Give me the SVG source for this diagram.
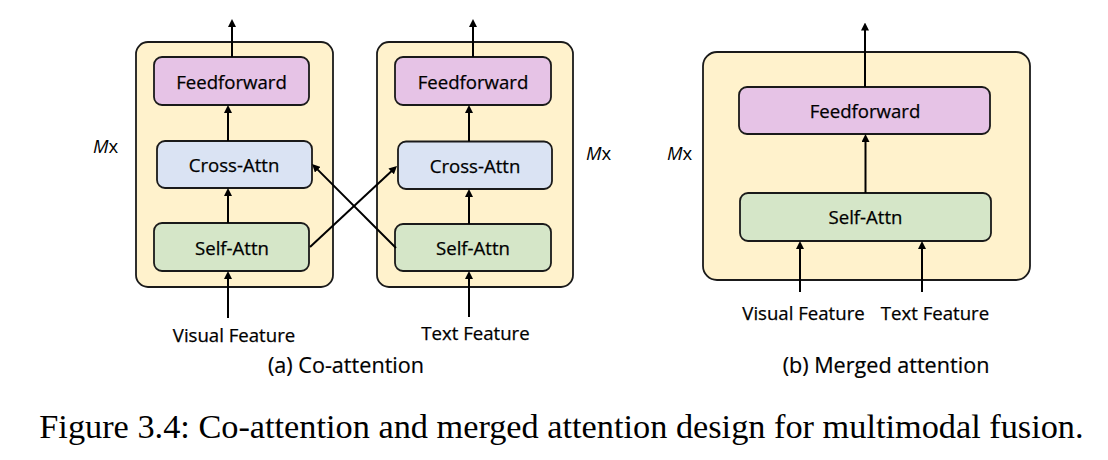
<svg xmlns="http://www.w3.org/2000/svg" width="1108" height="460" viewBox="0 0 1108 460">
<style>
.bg{fill:#ffffff}
.outer{fill:#fff2cc;stroke:#1a1a1a;stroke-width:1.8}
.ff{fill:#e6c3e6;stroke:#1a1a1a;stroke-width:1.8}
.ca{fill:#dae3f3;stroke:#1a1a1a;stroke-width:1.8}
.sa{fill:#d5e6c8;stroke:#1a1a1a;stroke-width:1.8}
.lbl{font-family:"Open Sans","Noto Sans",sans-serif;font-size:18.6px;fill:#000;stroke:#000;stroke-width:0.25;text-anchor:middle}
.cap{font-family:"Open Sans","Noto Sans",sans-serif;font-size:21.6px;fill:#000;stroke:#000;stroke-width:0.2;text-anchor:middle}
.mx{font-family:"Open Sans","Noto Sans",sans-serif;font-size:18.5px;fill:#000}
.fig{font-family:"Liberation Serif","Times New Roman",serif;font-size:34.3px;fill:#000}
.arr{stroke:#000;stroke-width:2;fill:none;marker-end:url(#ah)}
</style>
<defs>
<marker id="ah" viewBox="0 0 10 10" refX="5" refY="5" markerWidth="8" markerHeight="8" markerUnits="userSpaceOnUse" orient="auto">
<path d="M0,0 L10,5 L0,10 z" fill="#000"/>
</marker>
</defs>
<rect class="bg" x="0" y="0" width="1108" height="460"/>

<g id="coattn-left">
<rect class="outer" x="136" y="42" width="197" height="245" rx="12"/>
</g>
<g id="coattn-right">
<rect class="outer" x="377" y="42" width="196" height="245" rx="12"/>
</g>
<g id="merged">
<rect class="outer" x="703" y="52" width="327" height="228" rx="14"/>
</g>

<g id="ff-left"><rect class="ff" x="154" y="57" width="155" height="48" rx="8"/><text class="lbl" x="231.5" y="89">Feedforward</text></g>
<g id="ca-left"><rect class="ca" x="157" y="141" width="155" height="47" rx="8"/><text class="lbl" x="234" y="172">Cross-Attn</text></g>
<g id="sa-left"><rect class="sa" x="154" y="223" width="155" height="48" rx="8"/><text class="lbl" x="232" y="254.5">Self-Attn</text></g>

<g id="ff-right"><rect class="ff" x="395" y="57" width="156" height="48" rx="8"/><text class="lbl" x="473" y="89">Feedforward</text></g>
<g id="ca-right"><rect class="ca" x="398" y="141.5" width="154" height="47.5" rx="8"/><text class="lbl" x="475" y="172.5">Cross-Attn</text></g>
<g id="sa-right"><rect class="sa" x="395" y="224" width="156" height="47" rx="8"/><text class="lbl" x="473" y="255">Self-Attn</text></g>

<g id="ff-merged"><rect class="ff" x="739" y="87" width="251" height="47" rx="8"/><text class="lbl" x="865" y="117.5">Feedforward</text></g>
<g id="sa-merged"><rect class="sa" x="740" y="193" width="251" height="48" rx="8"/><text class="lbl" x="865.5" y="223.5">Self-Attn</text></g>

<g id="connectors">
<line class="arr" x1="232" y1="57" x2="232" y2="23"/>
<line class="arr" x1="228" y1="141" x2="228" y2="109"/>
<line class="arr" x1="228" y1="223" x2="228" y2="192"/>
<line class="arr" x1="228" y1="318" x2="228" y2="275"/>
<line class="arr" x1="473" y1="57" x2="473" y2="23"/>
<line class="arr" x1="469" y1="141.5" x2="469" y2="109"/>
<line class="arr" x1="469" y1="224" x2="469" y2="193"/>
<line class="arr" x1="469" y1="317" x2="469" y2="275"/>
<line class="arr" x1="310" y1="247" x2="394.1" y2="168.7"/>
<line class="arr" x1="396" y1="248" x2="314.9" y2="166.9"/>
<line class="arr" x1="865" y1="87" x2="865" y2="26.5"/>
<line class="arr" x1="865.5" y1="193" x2="865.5" y2="138"/>
<line class="arr" x1="800" y1="292" x2="800" y2="245"/>
<line class="arr" x1="922" y1="292" x2="922" y2="245"/>
</g>

<g id="labels">
<text class="mx" x="93" y="152.5"><tspan font-style="italic">M</tspan>x</text>
<text class="mx" x="586" y="160"><tspan font-style="italic">M</tspan>x</text>
<text class="mx" x="667" y="160"><tspan font-style="italic">M</tspan>x</text>
<text class="lbl" x="234" y="341.5">Visual Feature</text>
<text class="lbl" x="475.5" y="339.5">Text Feature</text>
<text class="cap" x="346" y="373">(a) Co-attention</text>
<text class="lbl" x="803.5" y="320">Visual Feature</text>
<text class="lbl" x="935" y="320">Text Feature</text>
<text class="cap" x="886" y="373">(b) Merged attention</text>
<text class="fig" x="39.3" y="438">Figure 3.4: Co-attention and merged attention design for multimodal fusion.</text>
</g>
</svg>
